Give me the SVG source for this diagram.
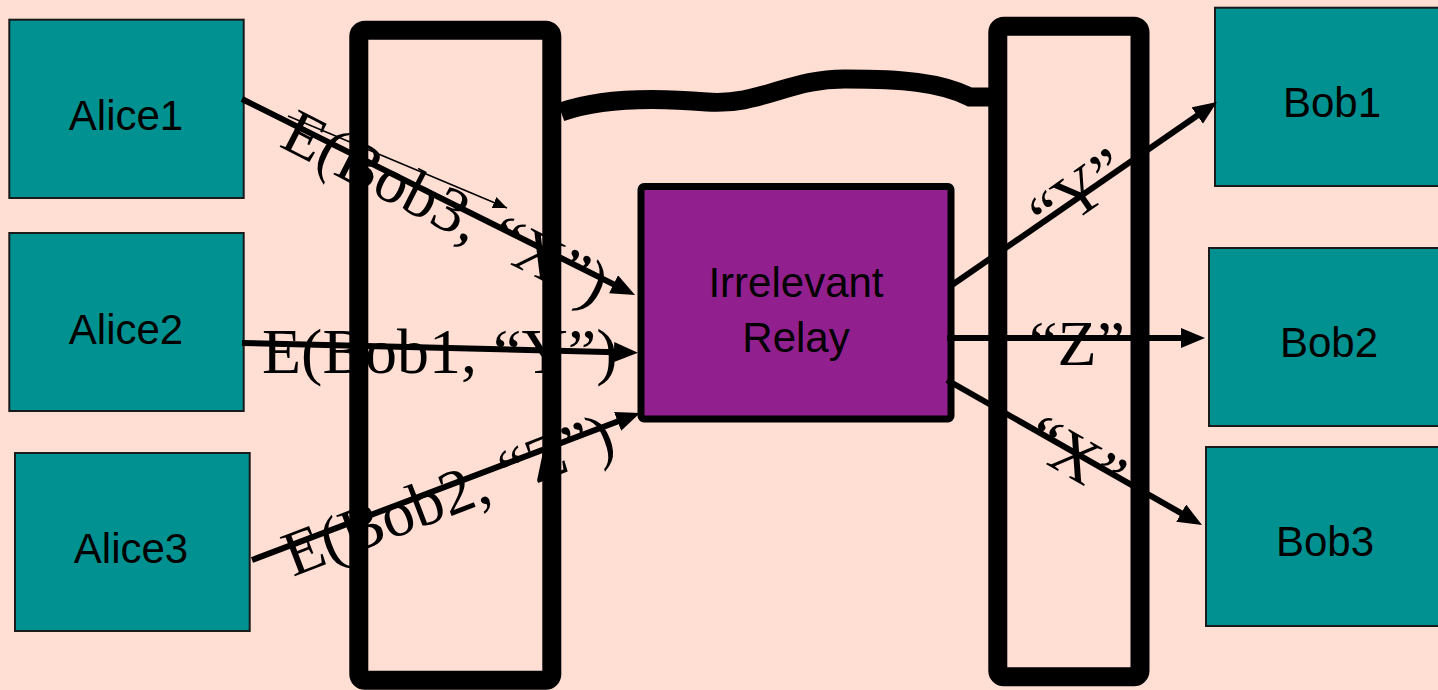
<svg xmlns="http://www.w3.org/2000/svg" width="1438" height="690" viewBox="0 0 1438 690">
<style>
.node{fill:#009190;stroke:#1a1a1a;stroke-width:2}
.lbl{font-family:"Liberation Sans",Arial,sans-serif;font-size:42px;fill:#000;text-anchor:middle}
.wall{fill:none;stroke:#000;stroke-width:19}
.conn{fill:none;stroke:#000;stroke-width:6}
.msg{font-family:"Liberation Serif","Times New Roman",serif;font-size:64px;fill:#000}
</style>
<defs>
<marker id="ah" markerUnits="userSpaceOnUse" markerWidth="26" markerHeight="22" refX="12" refY="10" orient="auto">
<path d="M0,0 L24,10 L0,20 Z" fill="#000"/>
</marker>
<marker id="ahs" markerUnits="userSpaceOnUse" markerWidth="16" markerHeight="14" refX="14" refY="6" orient="auto">
<path d="M0,0 L14,6 L0,12 Z" fill="#000"/>
</marker>
</defs>
<rect width="1438" height="690" fill="#FFDED4"/>
<g id="walls">
<rect id="wall-left" class="wall" x="358.8" y="30.3" width="193" height="650" rx="6"/>
<rect id="wall-right" class="wall" x="997.8" y="26.3" width="142.2" height="650.4" rx="6"/>
<path id="wire" d="M561,112 C600,98 650,97 707,102 C760,106 790,78 847,79 C900,79 940,82 970,97 L990,97" fill="none" stroke="#000" stroke-width="19"/>
</g>
<g id="alice1"><rect class="node" x="9.3" y="19.7" width="234.4" height="178.3"/><text class="lbl" x="126" y="130">Alice1</text></g>
<g id="alice2"><rect class="node" x="9.3" y="233" width="234.4" height="178"/><text class="lbl" x="126" y="344">Alice2</text></g>
<g id="alice3"><rect class="node" x="15" y="453" width="234.7" height="178"/><text class="lbl" x="131" y="563">Alice3</text></g>
<g id="bob1"><rect class="node" x="1215" y="7.7" width="230" height="178.3"/><text class="lbl" x="1332" y="117">Bob1</text></g>
<g id="bob2"><rect class="node" x="1209" y="248" width="236" height="178"/><text class="lbl" x="1329" y="357">Bob2</text></g>
<g id="bob3"><rect class="node" x="1206" y="447" width="240" height="179"/><text class="lbl" x="1325" y="556">Bob3</text></g>
<g id="relay"><rect x="641" y="186.5" width="310" height="232.5" rx="3" fill="#921F8E" stroke="#000" stroke-width="7"/><text class="lbl" x="796" y="297">Irrelevant</text><text class="lbl" x="796" y="352">Relay</text></g>
<g id="connectors">
<line class="conn" x1="242" y1="99" x2="624.3" y2="289.6" marker-end="url(#ah)"/>
<line class="conn" x1="242" y1="343" x2="626" y2="352.4" marker-end="url(#ah)"/>
<line class="conn" x1="252" y1="560" x2="628.8" y2="417.2" marker-end="url(#ah)"/>
<line class="conn" x1="952" y1="285" x2="1207.1" y2="108.8" marker-end="url(#ah)"/>
<line class="conn" x1="947" y1="338" x2="1193" y2="338" marker-end="url(#ah)"/>
<line class="conn" x1="947" y1="380" x2="1191.6" y2="519.1" marker-end="url(#ah)"/>
<line x1="288" y1="116" x2="507" y2="208" stroke="#000" stroke-width="1.5" marker-end="url(#ahs)"/>
</g>
<g id="labels">
<text class="msg" transform="translate(278,146) rotate(27)">E(Bob3, “X”)</text>
<text class="msg" x="262" y="373">E(Bob1, “Y”)</text>
<text class="msg" transform="translate(293,577) rotate(-21)">E(Bob2, “Z”)</text>
<text class="msg" text-anchor="middle" transform="translate(1091,210) rotate(-35)">“Y”</text>
<text class="msg" text-anchor="middle" x="1077" y="365">“Z”</text>
<text class="msg" text-anchor="middle" transform="translate(1065,475) rotate(30)">“X”</text>
</g>
</svg>
